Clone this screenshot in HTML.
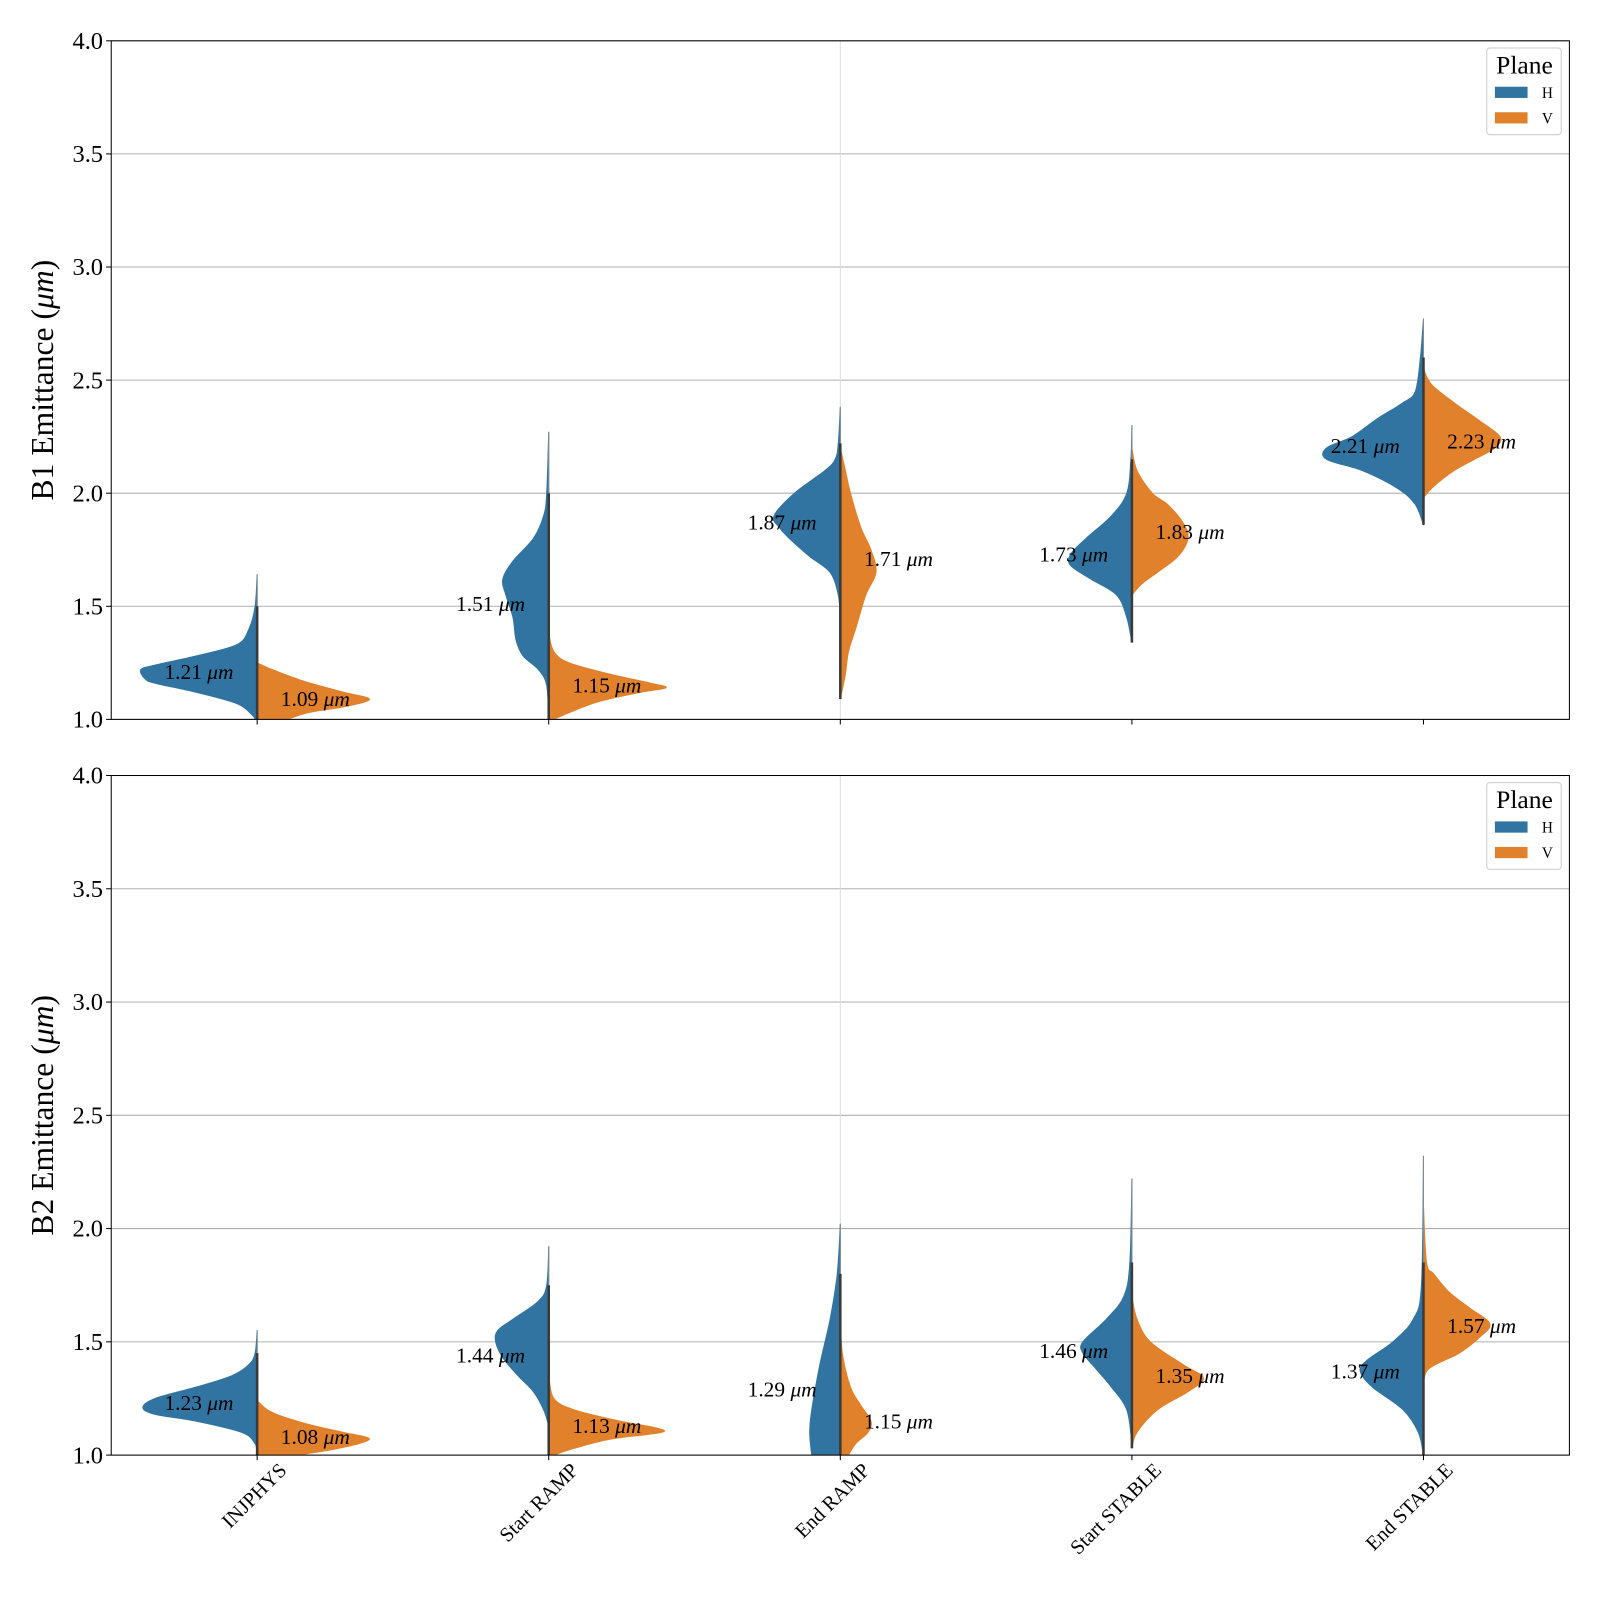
<!DOCTYPE html>
<html><head><meta charset="utf-8"><style>
html,body{margin:0;padding:0;background:#fff;overflow:hidden}
svg{display:block;font-family:"Liberation Serif",serif}
</style></head><body>
<svg id="chart" width="1600" height="1600" viewBox="0 0 1568 1568" xmlns="http://www.w3.org/2000/svg"></svg>
<script>
const categories = ["INJPHYS","Start RAMP","End RAMP","Start STABLE","End STABLE"];
const yTicks = [1.0,1.5,2.0,2.5,3.0,3.5,4.0];
const b1Means = [[1.21,1.09],[1.51,1.15],[1.87,1.71],[1.73,1.83],[2.21,2.23]];
const b2Means = [[1.23,1.08],[1.44,1.13],[1.29,1.15],[1.46,1.35],[1.37,1.57]];
// profiles: [value, half-width]
const b1H = [
 [[1.64,0],[1.5,2],[1.4,8],[1.33,20],[1.28,60],[1.24,100],[1.22,114],[1.18,110],[1.16,100],[1.12,60],[1.07,20],[1.02,5],[1.0,2]],
 [[2.27,0],[2.0,2],[1.9,5],[1.8,15],[1.7,35],[1.62,45],[1.55,42],[1.45,35],[1.35,32],[1.28,25],[1.22,10],[1.15,2],[1.0,0]],
 [[2.38,0],[2.22,2],[2.15,5],[2.1,15],[2.0,45],[1.9,65],[1.85,60],[1.8,50],[1.72,30],[1.65,10],[1.55,2],[1.45,0]],
 [[2.3,0],[2.15,1],[2.0,5],[1.9,20],[1.8,45],[1.73,60],[1.68,60],[1.62,40],[1.55,15],[1.45,5],[1.34,0]],
 [[2.77,0],[2.6,3],[2.45,8],[2.4,20],[2.33,45],[2.25,70],[2.2,95],[2.15,95],[2.1,60],[2.02,25],[1.95,8],[1.86,0]]
];
const b1V = [
 [[1.25,0],[1.22,15],[1.17,45],[1.12,85],[1.09,110],[1.06,90],[1.03,50],[1.0,30]],
 [[1.38,0],[1.3,5],[1.25,20],[1.2,60],[1.16,100],[1.14,115],[1.12,90],[1.08,50],[1.03,20],[1.0,5]],
 [[2.2,0],[2.1,5],[2.0,10],[1.85,20],[1.75,30],[1.65,35],[1.55,25],[1.4,15],[1.3,8],[1.2,5],[1.09,0]],
 [[2.2,0],[2.1,5],[2.0,20],[1.95,35],[1.87,50],[1.8,55],[1.72,45],[1.65,25],[1.6,10],[1.55,0]],
 [[2.55,0],[2.48,8],[2.4,30],[2.32,55],[2.25,75],[2.2,70],[2.15,50],[2.1,30],[2.03,10],[1.98,0]]
];
const b2H = [
 [[1.55,0],[1.45,2],[1.4,8],[1.35,25],[1.3,60],[1.25,100],[1.21,112],[1.18,100],[1.15,60],[1.1,15],[1.05,2],[1.0,0]],
 [[1.92,0],[1.75,2],[1.68,10],[1.6,35],[1.55,50],[1.5,52],[1.43,45],[1.35,30],[1.28,15],[1.2,5],[1.13,0]],
 [[2.02,0],[1.8,3],[1.6,10],[1.4,20],[1.2,28],[1.1,30],[1.0,28]],
 [[2.22,0],[1.85,2],[1.7,8],[1.6,25],[1.5,48],[1.45,48],[1.38,35],[1.3,20],[1.2,5],[1.05,0]],
 [[2.32,0],[1.75,2],[1.6,10],[1.5,30],[1.42,55],[1.37,62],[1.3,50],[1.2,20],[1.1,5],[1.0,0]]
];
const b2V = [
 [[1.24,0],[1.2,10],[1.17,25],[1.13,55],[1.1,85],[1.07,110],[1.03,80],[1.0,40]],
 [[1.35,0],[1.25,5],[1.2,25],[1.15,70],[1.12,105],[1.1,110],[1.07,60],[1.03,25],[1.0,5]],
 [[1.6,0],[1.45,2],[1.3,10],[1.22,20],[1.15,30],[1.1,27],[1.05,15],[1.0,8]],
 [[1.7,0],[1.6,5],[1.5,18],[1.4,50],[1.34,70],[1.28,55],[1.2,25],[1.1,5],[1.03,0]],
 [[2.1,0],[1.85,3],[1.8,10],[1.72,25],[1.65,45],[1.58,65],[1.52,55],[1.45,35],[1.38,5],[1.3,0]]
];
const NS="http://www.w3.org/2000/svg";
const svg=document.getElementById('chart');
const X0=109,X1=1538;
function xPos(i){return 252+i*285.75;}
function mk(tag,attrs,parent){const e=document.createElementNS(NS,tag);for(const k in attrs)e.setAttribute(k,attrs[k]);(parent||svg).appendChild(e);return e;}
function smooth(pts){
  let d='M'+pts[0][0]+','+pts[0][1];
  for(let i=0;i<pts.length-1;i++){
    const p0=pts[i-1]||pts[i],p1=pts[i],p2=pts[i+1],p3=pts[i+2]||p2;
    const c1=[p1[0]+(p2[0]-p0[0])/6,p1[1]+(p2[1]-p0[1])/6];
    const c2=[p2[0]-(p3[0]-p1[0])/6,p2[1]-(p3[1]-p1[1])/6];
    d+=' C'+c1[0]+','+c1[1]+' '+c2[0]+','+c2[1]+' '+p2[0]+','+p2[1];
  }
  return d;
}
function panel(top,bottom,label,H,V,means,pname){
  const g=mk('g',{});
  
  
  const yS=v=>bottom-(v-1)/3*(bottom-top);
  const cid='clip-'+pname;
  const cp=mk('clipPath',{id:cid},g);mk('rect',{x:X0,y:top,width:X1-X0,height:bottom-top},cp);
  yTicks.forEach(t=>{
    const gl=mk('line',{x1:X0,x2:X1,y1:yS(t),y2:yS(t),stroke:'#b0b0b0','stroke-width':1},g);
    
    
    mk('line',{x1:X0-5,x2:X0,y1:yS(t),y2:yS(t),stroke:'#000','stroke-width':1},g);
    const tl=mk('text',{x:X0-8,y:yS(t)+8,'text-anchor':'end','font-size':24},g);tl.textContent=t.toFixed(1);
    
    
  });
  const vg=mk('g',{'clip-path':'url(#'+cid+')'},g);
  mk('line',{x1:xPos(2),x2:xPos(2),y1:top,y2:bottom,stroke:'#dcdcdc','stroke-width':1},vg);
  categories.forEach((c,i)=>{
    const cx=xPos(i);
    mk('line',{x1:cx,x2:cx,y1:bottom,y2:bottom+5,stroke:'#000'},g);
    [[H[i],-1,'#3274a1','h'],[V[i],1,'#e1812c','v']].forEach(([prof,dir,col,nm])=>{
      const pts=prof.map(p=>[cx+dir*p[1],yS(p[0])]);
      let d=smooth(pts);
      d+=' L'+cx+','+yS(prof[prof.length-1][0])+' L'+cx+','+yS(prof[0][0])+' Z';
      const p=mk('path',{d:d,fill:col,stroke:col,'stroke-width':1,'stroke-linejoin':'round'},vg);
      
      
    });
    const top1=Math.max(H[i][0][0],V[i][0][0]);
    const bot1=Math.min(H[i][H[i].length-1][0],V[i][V[i].length-1][0]);
    mk('line',{x1:cx,x2:cx,y1:yS(top1),y2:yS(bot1),stroke:'#8a8a8a','stroke-width':1},vg);
    mk('line',{x1:cx,x2:cx,y1:yS(Math.max(H[i][1][0],V[i][1][0])),y2:yS(bot1),stroke:'#3a3a3a','stroke-width':2.5},vg);
    [[means[i][0],-57],[means[i][1],57]].forEach(([m,dx])=>{
      const t=mk('text',{x:cx+dx,y:yS(m)+7,'text-anchor':'middle','font-size':21},g);
      t.innerHTML=m.toFixed(2)+' <tspan font-style="italic">μm</tspan>';
      
      
    });
  });
  mk('rect',{x:X0,y:top,width:X1-X0,height:bottom-top,fill:'none',stroke:'#000','stroke-width':1},g);
  const yl=mk('text',{x:0,y:0,transform:'translate(52,'+((top+bottom)/2)+') rotate(-90)','text-anchor':'middle','font-size':31},g);
  yl.innerHTML=label+' Emittance (<tspan font-style="italic">μm</tspan>)';
  
  
  const lg=mk('g',{},g);
  
  
  mk('rect',{x:1457,y:top+7,width:73,height:85,rx:3,fill:'#fff',stroke:'#ccc'},lg);
  const lt=mk('text',{x:1494,y:top+32,'text-anchor':'middle','font-size':25},lg);lt.textContent='Plane';
  [['H','#3274a1',top+51],['V','#e1812c',top+76]].forEach(([n,c,yy])=>{
    mk('rect',{x:1465,y:yy-6,width:32,height:11,fill:c},lg);
    const t=mk('text',{x:1511,y:yy+5,'font-size':15},lg);t.textContent=n;
    
    
  });
}
panel(40,705,'B1',b1H,b1V,b1Means,'b1-panel');
panel(760,1426,'B2',b2H,b2V,b2Means,'b2-panel');
categories.forEach((c,i)=>{
  const x=xPos(i)+30,y=1442;
  const t=mk('text',{x:x,y:y,transform:'rotate(-45 '+x+' '+y+')','text-anchor':'end','font-size':20});
  t.textContent=c;
  
  
});
</script>
</body></html>
